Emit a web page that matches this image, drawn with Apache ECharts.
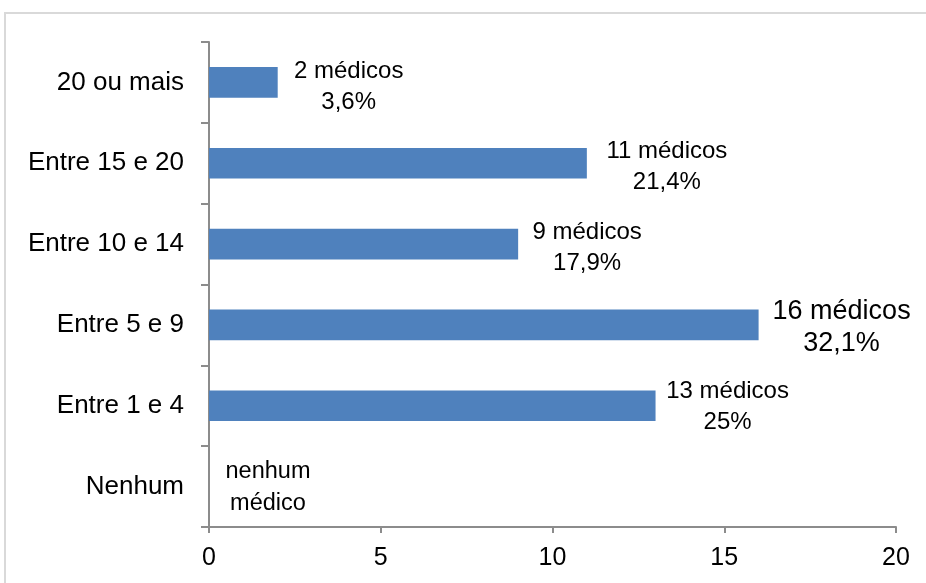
<!DOCTYPE html>
<html><head><meta charset="utf-8">
<script src="https://cdn.jsdelivr.net/npm/echarts@6/dist/echarts.min.js"></script>
<style>html,body{margin:0;padding:0;background:#fff}#c{width:926px;height:583px}</style>
</head><body><div id="c"></div>
<script>
const categories = ['Nenhum', 'Entre 1 e 4', 'Entre 5 e 9', 'Entre 10 e 14', 'Entre 15 e 20', '20 ou mais'];
const medicos = [0, 13, 16, 9, 11, 2];
const labelTexts = ['nenhum\nmédico', '13 médicos\n25%', '16 médicos\n32,1%', '9 médicos\n17,9%', '11 médicos\n21,4%', '2 médicos\n3,6%'];
const xTicks = [0, 5, 10, 15, 20];

const labelStyle = [
  {dx: 59, dy: 1, size: 23.5, lh: 32},
  {dx: 72, dy: 1.5, size: 24, lh: 31},
  {dx: 83, dy: 3, size: 27, lh: 32},
  {dx: 69, dy: 4, size: 24, lh: 31},
  {dx: 80, dy: 3.5, size: 24, lh: 31},
  {dx: 71, dy: 4, size: 24, lh: 31}
];

const chart = echarts.init(document.getElementById('c'));
const font = '"Liberation Sans", Arial, sans-serif';
chart.setOption({
  animation: false,
  graphic: [{
    type: 'rect', shape: {x: 5, y: 13, width: 960, height: 620},
    style: {fill: 'none', stroke: '#d9d9d9', lineWidth: 2}, silent: true
  }],
  grid: {left: 209, right: 30, top: 42, bottom: 56, containLabel: false},
  xAxis: {
    type: 'value', min: xTicks[0], max: xTicks[xTicks.length - 1], interval: 5,
    axisLine: {show: true, lineStyle: {color: '#8c8c8c', width: 2}},
    axisTick: {show: true, length: 6, lineStyle: {color: '#8c8c8c', width: 2}},
    splitLine: {show: false},
    axisLabel: {color: '#000', fontSize: 25, fontFamily: font, margin: 19}
  },
  yAxis: {
    type: 'category', data: categories,
    axisLine: {show: true, lineStyle: {color: '#8c8c8c', width: 2}},
    axisTick: {show: true, length: 8, lineStyle: {color: '#8c8c8c', width: 2}},
    axisLabel: {color: '#000', fontSize: 26, fontFamily: font, margin: 25}
  },
  series: [{
    type: 'bar', barWidth: '38%',
    itemStyle: {color: '#4f81bd'},
    data: medicos.map((v, i) => ({
      value: v,
      label: {
        show: true, position: 'right', distance: 0, align: 'center',
        offset: [labelStyle[i].dx, labelStyle[i].dy],
        formatter: labelTexts[i], color: '#000',
        fontSize: labelStyle[i].size, lineHeight: labelStyle[i].lh,
        fontFamily: font
      }
    }))
  }]
});
</script></body></html>
